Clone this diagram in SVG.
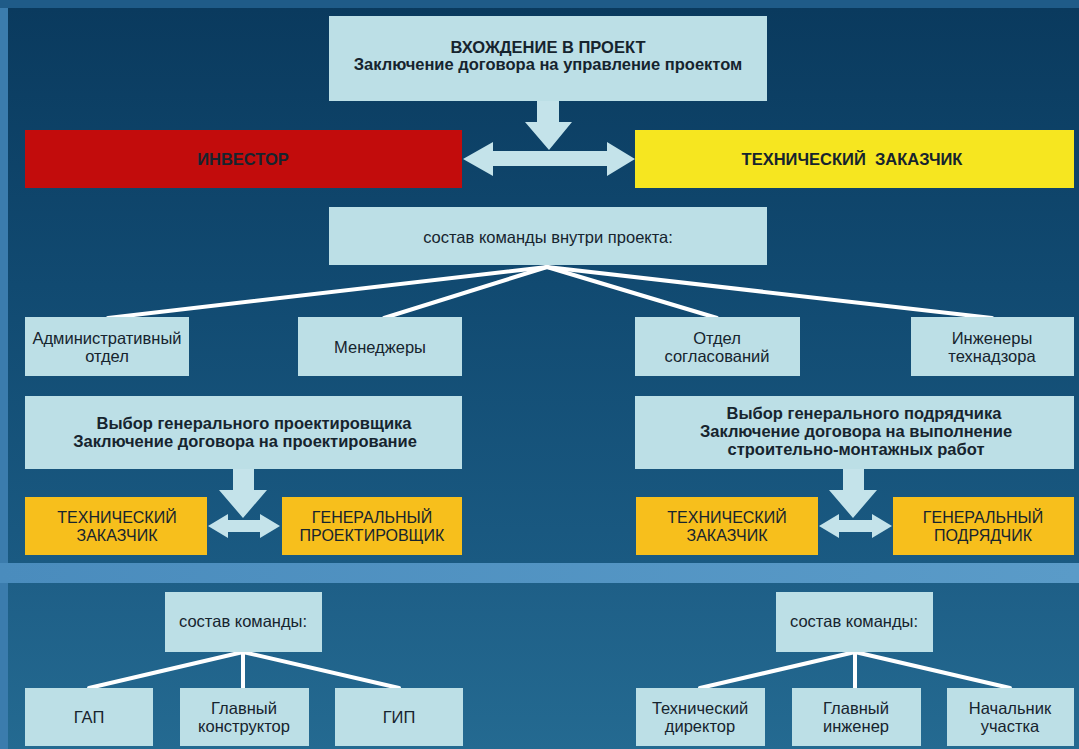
<svg xmlns="http://www.w3.org/2000/svg" width="1079" height="749" viewBox="0 0 1079 749">
<defs>
<linearGradient id="gTop" x1="0" y1="0" x2="0" y2="1">
<stop offset="0" stop-color="#0a3a5e"/>
<stop offset="0.5" stop-color="#114a71"/>
<stop offset="1" stop-color="#1a5a82"/>
</linearGradient>
<linearGradient id="gBot" x1="0" y1="0" x2="0" y2="1">
<stop offset="0" stop-color="#1e5f87"/>
<stop offset="1" stop-color="#246a91"/>
</linearGradient>
<linearGradient id="gBand" x1="0" y1="0" x2="1" y2="0">
<stop offset="0" stop-color="#4a8cbd"/>
<stop offset="1" stop-color="#5a9bc8"/>
</linearGradient>
<style>
.lb{fill:#bcdfe6}
.red{fill:#c20c0c}
.yel{fill:#f6e620}
.org{fill:#f7bf1c}
.arr{fill:#c4e3ea}
.ln{stroke:#ffffff;stroke-width:4;fill:none;stroke-linecap:round}
text{font-family:"Liberation Sans",Arial,sans-serif;fill:#16242e;text-anchor:middle;dominant-baseline:central}
.b{font-weight:bold;font-size:16.5px}
.n{font-size:16.5px}
.c{font-size:16px}
</style>
</defs>
<rect x="0" y="0" width="1079" height="749" fill="#3b7cad"/>
<rect x="0" y="0" width="1079" height="8" fill="#1f5b88"/>
<rect x="8" y="8" width="1071" height="555" fill="url(#gTop)"/>
<rect x="0" y="563" width="1079" height="20" fill="url(#gBand)"/>
<rect x="8" y="583" width="1071" height="166" fill="url(#gBot)"/>

<g id="connectors">
<path class="arr" d="M537,101 H559 V122 H572 L549,150 L525,122 H537 Z"/>
<path class="arr" d="M463,159 L493,142 V151 H607 V142 L635,159 L607,176 V166 H493 V176 Z"/>
<line class="ln" x1="547" y1="267" x2="108" y2="318"/>
<line class="ln" x1="547" y1="267" x2="384" y2="318"/>
<line class="ln" x1="547" y1="267" x2="717" y2="318"/>
<line class="ln" x1="547" y1="267" x2="992" y2="318"/>
<path class="arr" d="M233,469 H254 V490 H267 L243,518 L219,490 H233 Z"/>
<path class="arr" d="M208,526 L228,514 V520 H260 V514 L280,526 L260,538 V532 H228 V538 Z"/>
<path class="arr" d="M843,469 H864 V490 H877 L853,518 L829,490 H843 Z"/>
<path class="arr" d="M819,526 L839,514 V520 H872 V514 L892,526 L872,538 V532 H839 V538 Z"/>
<line class="ln" x1="243" y1="652" x2="89" y2="688"/>
<line class="ln" x1="243" y1="652" x2="243" y2="688"/>
<line class="ln" x1="243" y1="652" x2="399" y2="688"/>
<line class="ln" x1="855" y1="652" x2="700" y2="688"/>
<line class="ln" x1="855" y1="652" x2="855" y2="688"/>
<line class="ln" x1="855" y1="652" x2="1010" y2="688"/>
</g>

<g id="entry">
<rect class="lb" x="329" y="16" width="438" height="85"/>
<text class="b" x="548" y="47">ВХОЖДЕНИЕ В ПРОЕКТ</text>
<text class="b" x="548" y="64">Заключение договора на управление проектом</text>
</g>
<g id="investor">
<rect class="red" x="25" y="130" width="437" height="58"/>
<text class="b" x="243" y="159" style="font-weight:900">ИНВЕСТОР</text>
</g>
<g id="tech-customer">
<rect class="yel" x="635" y="130" width="439" height="58"/>
<text class="b" x="852" y="159" xml:space="preserve">ТЕХНИЧЕСКИЙ  ЗАКАЗЧИК</text>
</g>
<g id="team">
<rect class="lb" x="329" y="207" width="438" height="58"/>
<text class="n" x="548" y="237">состав команды внутри проекта:</text>
</g>
<g id="admin">
<rect class="lb" x="25" y="317" width="164" height="59"/>
<text class="n" x="107" y="338">Административный</text>
<text class="n" x="107" y="356">отдел</text>
</g>
<g id="managers">
<rect class="lb" x="298" y="317" width="164" height="59"/>
<text class="n" x="380" y="347">Менеджеры</text>
</g>
<g id="approvals">
<rect class="lb" x="635" y="317" width="165" height="59"/>
<text class="n" x="717" y="338">Отдел</text>
<text class="n" x="717" y="356">согласований</text>
</g>
<g id="engineers">
<rect class="lb" x="911" y="317" width="163" height="59"/>
<text class="n" x="992" y="338">Инженеры</text>
<text class="n" x="992" y="356">технадзора</text>
</g>
<g id="designer-choice">
<rect class="lb" x="25" y="396" width="437" height="73"/>
<text class="b" x="254" y="423">Выбор генерального проектировщика</text>
<text class="b" x="245" y="441">Заключение договора на проектирование</text>
</g>
<g id="contractor-choice">
<rect class="lb" x="635" y="396" width="439" height="73"/>
<text class="b" x="864" y="413">Выбор генерального подрядчика</text>
<text class="b" x="856" y="431">Заключение договора на выполнение</text>
<text class="b" x="856" y="449">строительно-монтажных работ</text>
</g>
<g id="tc-left">
<rect class="org" x="25" y="497" width="182" height="58"/>
<text class="c" x="117" y="517">ТЕХНИЧЕСКИЙ</text>
<text class="c" x="117" y="535">ЗАКАЗЧИК</text>
</g>
<g id="gen-designer">
<rect class="org" x="282" y="497" width="180" height="58"/>
<text class="c" x="372" y="517">ГЕНЕРАЛЬНЫЙ</text>
<text class="c" x="372" y="535">ПРОЕКТИРОВЩИК</text>
</g>
<g id="tc-right">
<rect class="org" x="636" y="497" width="182" height="58"/>
<text class="c" x="727" y="517">ТЕХНИЧЕСКИЙ</text>
<text class="c" x="727" y="535">ЗАКАЗЧИК</text>
</g>
<g id="gen-contractor">
<rect class="org" x="893" y="497" width="181" height="58"/>
<text class="c" x="983" y="517">ГЕНЕРАЛЬНЫЙ</text>
<text class="c" x="983" y="535">ПОДРЯДЧИК</text>
</g>
<g id="team-left">
<rect class="lb" x="165" y="592" width="157" height="60"/>
<text class="n" x="243" y="621">состав команды:</text>
</g>
<g id="team-right">
<rect class="lb" x="776" y="592" width="157" height="60"/>
<text class="n" x="854" y="621">состав команды:</text>
</g>
<g id="gap">
<rect class="lb" x="25" y="688" width="128" height="58"/>
<text class="n" x="89" y="717">ГАП</text>
</g>
<g id="chief-designer">
<rect class="lb" x="180" y="688" width="129" height="58"/>
<text class="n" x="244" y="708">Главный</text>
<text class="n" x="244" y="726">конструктор</text>
</g>
<g id="gip">
<rect class="lb" x="335" y="688" width="128" height="58"/>
<text class="n" x="399" y="717">ГИП</text>
</g>
<g id="tech-director">
<rect class="lb" x="636" y="688" width="129" height="58"/>
<text class="n" x="700" y="708">Технический</text>
<text class="n" x="700" y="726">директор</text>
</g>
<g id="chief-engineer">
<rect class="lb" x="792" y="688" width="129" height="58"/>
<text class="n" x="856" y="708">Главный</text>
<text class="n" x="856" y="726">инженер</text>
</g>
<g id="site-chief">
<rect class="lb" x="947" y="688" width="127" height="58"/>
<text class="n" x="1010" y="708">Начальник</text>
<text class="n" x="1010" y="726">участка</text>
</g>
</svg>
